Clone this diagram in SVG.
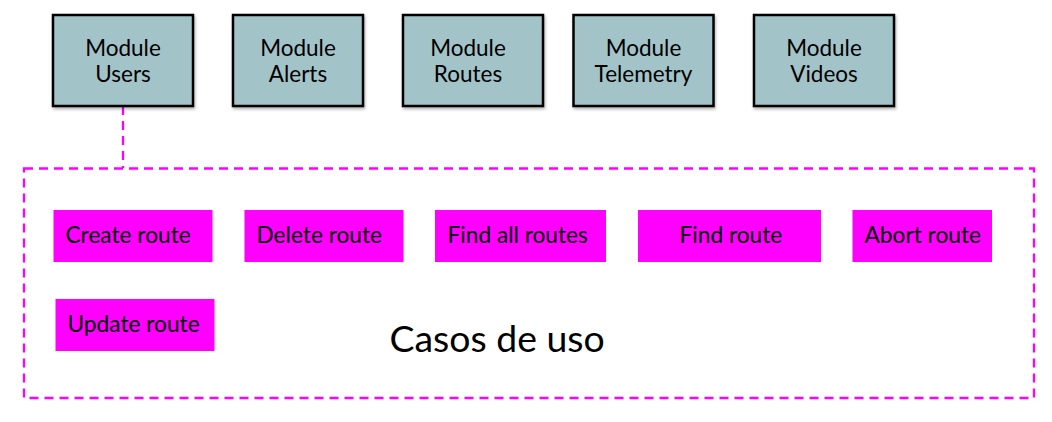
<svg xmlns="http://www.w3.org/2000/svg" width="1052" height="422" viewBox="0 0 1052 422">
<defs>
<filter id="sh" x="-10%" y="-10%" width="125%" height="130%">
<feDropShadow dx="1" dy="2" stdDeviation="1.5" flood-color="#000" flood-opacity="0.3"/>
</filter>
</defs>
<style>
.mod{fill:#a2c4c9;stroke:#000;stroke-width:2.5;filter:url(#sh)}
.mt{font-family:Lato,"Liberation Sans",sans-serif;font-size:22.5px;fill:#000;text-anchor:middle}
.uc{fill:#ff00ff}
.ut{font-family:Lato,"Liberation Sans",sans-serif;font-size:22.7px;fill:#000}
.dash{fill:none;stroke:#ff00ff;stroke-width:2.3;stroke-dasharray:9,6}
</style>
<rect width="1052" height="422" fill="#fff"/>
<g id="connectors">
<line class="dash" x1="123" y1="106" x2="123" y2="168"/>
</g>
<g id="casos-de-uso">
<rect class="dash" x="24" y="168.5" width="1010" height="229.5"/>
<text x="389.5" y="351.5" style="font-family:Lato,'Liberation Sans',sans-serif;font-size:37.4px;fill:#000">Casos de uso</text>
</g>
<g id="module-users">
<rect class="mod" x="53" y="15" width="140" height="91"/>
<text class="mt" x="123" y="55.5">Module</text>
<text class="mt" x="123" y="81.5">Users</text>
</g>
<g id="module-alerts">
<rect class="mod" x="233" y="15" width="130" height="91"/>
<text class="mt" x="298" y="55.5">Module</text>
<text class="mt" x="298" y="81.5">Alerts</text>
</g>
<g id="module-routes">
<rect class="mod" x="403" y="15" width="140" height="91"/>
<text class="mt" x="468" y="55.5">Module</text>
<text class="mt" x="468" y="81.5">Routes</text>
</g>
<g id="module-telemetry">
<rect class="mod" x="573.5" y="15" width="140" height="91"/>
<text class="mt" x="643.5" y="55.5">Module</text>
<text class="mt" x="643.5" y="81.5">Telemetry</text>
</g>
<g id="module-videos">
<rect class="mod" x="754" y="15" width="140" height="91"/>
<text class="mt" x="824" y="55.5">Module</text>
<text class="mt" x="824" y="81.5">Videos</text>
</g>
<g id="create-route">
<rect class="uc" x="53.5" y="210" width="159" height="52"/>
<text class="ut" x="65.5" y="242.5">Create route</text>
</g>
<g id="delete-route">
<rect class="uc" x="244.5" y="210" width="159" height="52"/>
<text class="ut" x="256.5" y="242.5">Delete route</text>
</g>
<g id="find-all-routes">
<rect class="uc" x="435" y="210" width="171" height="52"/>
<text class="ut" x="447.5" y="242.5">Find all routes</text>
</g>
<g id="find-route">
<rect class="uc" x="638" y="210" width="183" height="52"/>
<text class="ut" x="679.5" y="242.5">Find route</text>
</g>
<g id="abort-route">
<rect class="uc" x="852.5" y="210" width="139.5" height="52"/>
<text class="ut" x="864.5" y="242.5">Abort route</text>
</g>
<g id="update-route">
<rect class="uc" x="55.5" y="299" width="159" height="52"/>
<text class="ut" x="67.5" y="331.5">Update route</text>
</g>
</svg>
